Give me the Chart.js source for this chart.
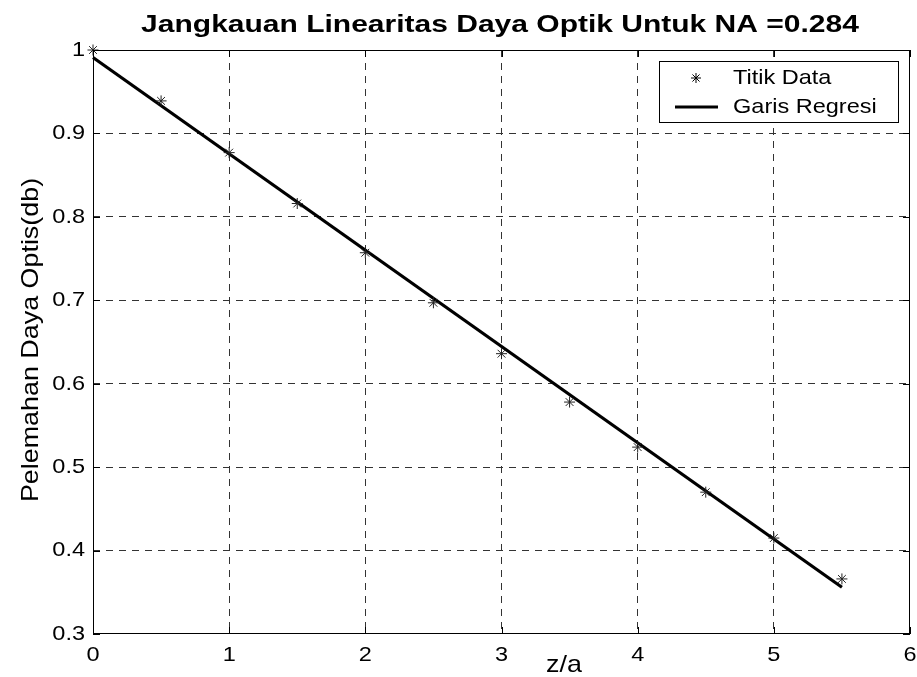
<!DOCTYPE html>
<html>
<head>
<meta charset="utf-8">
<script src="https://cdn.jsdelivr.net/npm/chart.js@4"></script>
<style>
  html, body { margin: 0; padding: 0; background: #fff; }
  #wrap { width: 917px; height: 677px; }
</style>
</head>
<body>
<div id="wrap"><canvas id="chart" width="917" height="677"></canvas></div>
<script>
// measured points
const zValues = [0, 0.5, 1, 1.5, 2, 2.5, 3, 3.5, 4, 4.5, 5, 5.5];
const powerValues = [1.0, 0.939, 0.877, 0.816, 0.757, 0.697, 0.636, 0.578, 0.524, 0.470, 0.415, 0.366];
// regression line end points
const fitZ = [0, 5.5];
const fitPower = [0.991, 0.356];

const xTicks = [0, 1, 2, 3, 4, 5, 6];
const yTicks = [0.3, 0.4, 0.5, 0.6, 0.7, 0.8, 0.9, 1];

const titleText = 'Jangkauan Linearitas Daya Optik Untuk NA =0.284';
const xLabel = 'z/a';
const yLabel = 'Pelemahan Daya Optis(db)';
const legendLabels = ['Titik Data', 'Garis Regresi'];

const FONT = '"Liberation Sans", Arial, sans-serif';

// text drawn a bit wider, like the original figure
function wideText(ctx, text, x, y, sx, align) {
  ctx.save();
  ctx.translate(x, y);
  ctx.scale(sx, 1);
  ctx.textAlign = align || 'center';
  ctx.fillText(text, 0, 0);
  ctx.restore();
}

const matlabLook = {
  id: 'matlabLook',
  afterDraw(chart) {
    const ctx = chart.ctx;
    const a = chart.chartArea;
    const xs = chart.scales.x, ys = chart.scales.y;
    ctx.save();
    // box
    ctx.strokeStyle = '#000';
    ctx.lineWidth = 1;
    ctx.setLineDash([]);
    ctx.strokeRect(a.left + 0.5, a.top + 0.5, a.right - a.left - 1, a.bottom - a.top - 1);
    // inward ticks
    ctx.beginPath();
    xTicks.forEach(v => {
      const px = Math.round(xs.getPixelForValue(v)) + 0.5;
      ctx.moveTo(px, a.bottom); ctx.lineTo(px, a.bottom - 7);
      ctx.moveTo(px, a.top); ctx.lineTo(px, a.top + 7);
    });
    yTicks.forEach(v => {
      const py = Math.round(ys.getPixelForValue(v)) + 0.5;
      ctx.moveTo(a.left, py); ctx.lineTo(a.left + 7, py);
      ctx.moveTo(a.right, py); ctx.lineTo(a.right - 7, py);
    });
    ctx.stroke();

    ctx.fillStyle = '#000';
    ctx.textBaseline = 'middle';

    // tick labels
    ctx.font = '21px ' + FONT;
    xTicks.forEach(v => wideText(ctx, String(v), xs.getPixelForValue(v), 655, 1.12, 'center'));
    yTicks.forEach(v => wideText(ctx, String(Math.round(v * 10) / 10), a.left - 8, ys.getPixelForValue(v), 1.12, 'right'));

    // title
    ctx.textBaseline = 'alphabetic';
    ctx.font = 'bold 24px ' + FONT;
    wideText(ctx, titleText, 500, 32, 1.25, 'center');

    // x label
    ctx.font = '24px ' + FONT;
    wideText(ctx, xLabel, 564, 672, 1.12, 'center');

    // y label
    ctx.save();
    ctx.translate(31, 340);
    ctx.rotate(-Math.PI / 2);
    ctx.textBaseline = 'middle';
    wideText(ctx, yLabel, 0, 0, 1.12, 'center');
    ctx.restore();

    // legend
    const lx = 659, ly = 61, lw = 239, lh = 61;
    ctx.fillStyle = '#fff';
    ctx.fillRect(lx, ly, lw, lh);
    ctx.strokeStyle = '#000';
    ctx.lineWidth = 1;
    ctx.strokeRect(lx + 0.5, ly + 0.5, lw, lh);
    ctx.font = '21px ' + FONT;
    ctx.fillStyle = '#000';
    ctx.textBaseline = 'alphabetic';
    wideText(ctx, legendLabels[0], 733, 84, 1.12, 'left');
    wideText(ctx, legendLabels[1], 733, 113, 1.12, 'left');
    // star marker
    const sx = 696, sy = 78, r = 5;
    ctx.beginPath();
    ctx.moveTo(sx - r, sy); ctx.lineTo(sx + r, sy);
    ctx.moveTo(sx, sy - r); ctx.lineTo(sx, sy + r);
    const d = r * 0.707;
    ctx.moveTo(sx - d, sy - d); ctx.lineTo(sx + d, sy + d);
    ctx.moveTo(sx - d, sy + d); ctx.lineTo(sx + d, sy - d);
    ctx.stroke();
    // line sample
    ctx.lineWidth = 3;
    ctx.beginPath();
    ctx.moveTo(675, 107); ctx.lineTo(718, 107);
    ctx.stroke();
    ctx.restore();
  }
};

const gridColor = (ctx, lo, hi) =>
  (ctx.tick && (Math.abs(ctx.tick.value - lo) < 1e-6 || Math.abs(ctx.tick.value - hi) < 1e-6)) ? 'rgba(0,0,0,0)' : '#333';

new Chart(document.getElementById('chart'), {
  type: 'scatter',
  data: {
    datasets: [
      {
        label: legendLabels[0],
        data: zValues.map((z, i) => ({ x: z, y: powerValues[i] })),
        pointStyle: 'star',
        pointRadius: 5.5,
        pointBorderWidth: 1,
        borderColor: '#222',
        backgroundColor: '#222',
        showLine: false,
        clip: false,
        order: 1
      },
      {
        label: legendLabels[1],
        data: fitZ.map((z, i) => ({ x: z, y: fitPower[i] })),
        showLine: true,
        borderColor: '#000',
        borderWidth: 3.2,
        pointRadius: 0,
        fill: false,
        clip: false,
        order: 2
      }
    ]
  },
  options: {
    responsive: false,
    animation: false,
    layout: { padding: { top: 50, right: 7, left: 0, bottom: 0 } },
    plugins: {
      legend: { display: false },
      title: { display: false },
      tooltip: { enabled: false }
    },
    scales: {
      x: {
        type: 'linear',
        min: 0, max: 6,
        afterBuildTicks(scale) { scale.ticks = xTicks.map(v => ({ value: v })); },
        afterFit(scale) { scale.height = 43; scale.paddingLeft = 0; scale.paddingRight = 0; },
        border: { display: false, dash: [7, 6] },
        grid: {
          drawTicks: false,
          color: ctx => gridColor(ctx, 0, 6),
          lineWidth: 1
        },
        ticks: { display: false }
      },
      y: {
        type: 'linear',
        min: 0.3, max: 1,
        afterBuildTicks(scale) { scale.ticks = yTicks.map(v => ({ value: v })); },
        afterFit(scale) { scale.width = 93; scale.paddingTop = 0; scale.paddingBottom = 0; },
        border: { display: false, dash: [7, 6] },
        grid: {
          drawTicks: false,
          color: ctx => gridColor(ctx, 0.3, 1),
          lineWidth: 1
        },
        ticks: { display: false }
      }
    }
  },
  plugins: [matlabLook]
});
</script>
</body>
</html>
